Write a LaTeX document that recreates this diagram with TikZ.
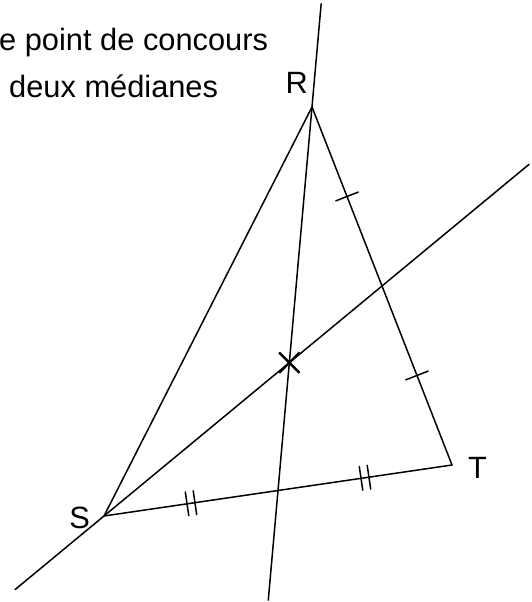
\documentclass[tikz,border=0pt]{standalone}
\usepackage{fontspec}
\setmainfont{Liberation Sans}
\usetikzlibrary{calc,positioning,decorations.markings,shapes.misc}

\tikzset{
  side/.style={line width=1.5pt, line cap=round},
  ptname/.style={font=\fontsize{30.8}{37}\selectfont, inner sep=0pt},
  onetick/.style={decoration={markings,
      mark=at position 0.25 with {\draw[side] (0,-12pt) -- (0,12pt);},
      mark=at position 0.75 with {\draw[side] (0,-12pt) -- (0,12pt);}},
    postaction=decorate},
  twotick/.style={decoration={markings,
      mark=at position 0.25 with {\draw[side] (-4pt,-12pt) -- (-4pt,12pt) (4pt,-12pt) -- (4pt,12pt);},
      mark=at position 0.75 with {\draw[side] (-4pt,-12pt) -- (-4pt,12pt) (4pt,-12pt) -- (4pt,12pt);}},
    postaction=decorate},
}

\begin{document}
\begin{tikzpicture}[x=1pt, y=-1pt]
    \useasboundingbox (0,0) rectangle (531,602);
    \coordinate (R) at (312,107);
    \coordinate (S) at (104,516);
    \coordinate (T) at (452,465);
    \coordinate (I) at ($(S)!0.5!(T)$);
    \coordinate (J) at ($(R)!0.5!(T)$);
    \coordinate (Rend1) at ($(R)!-0.269!(I)$);
    \coordinate (Rend2) at ($(R)!1.286!(I)$);
    \coordinate (Send1) at ($(S)!-0.320!(J)$);
    \coordinate (Send2) at ($(S)!1.529!(J)$);
    % triangle
    \draw[side] (R) -- (S);
    \draw[side, onetick] (R) -- (T);
    \draw[side, twotick] (S) -- (T);
    % medianes
    \draw[side] (Rend1) -- (Rend2);
    \draw[side] (Send1) -- (Send2);
    \node[draw, cross out, line width=2.4pt, inner sep=0pt, minimum size=18pt] (G)
        at (barycentric cs:R=1,S=1,T=1) {};
    \node[ptname, above left=13pt and 4pt of R] (nR) {R};
    \node[ptname, left=14pt of S, yshift=-2pt] (nS) {S};
    \node[ptname, right=16pt of T, yshift=-3pt] (nT) {T};
    \node[ptname, anchor=base west] (line1) at (-1,51) {e point de concours};
    \node[ptname, anchor=base west] (line2) at (9,97) {deux médianes};
\end{tikzpicture}
\end{document}
